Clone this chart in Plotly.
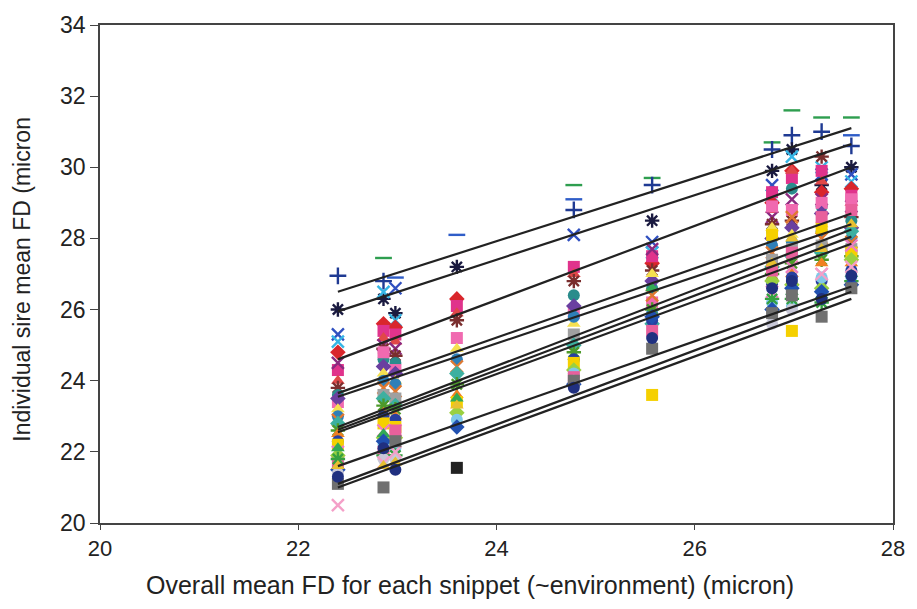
import plotly.graph_objects as go

# Environment (snippet) overall means, micron
env_x = [22.4, 22.86, 22.98, 23.6, 24.78, 25.57, 26.78, 26.98, 27.28, 27.58]

# Sire marker styles (Excel-like automatic markers)
sire_symbols = ["line-ew-open", "cross-thin-open", "line-ew-open", "asterisk-open", "x-thin-open",
                "x-thin-open", "diamond", "square", "triangle-up", "x-thin-open",
                "asterisk-open", "circle", "square", "diamond", "triangle-up",
                "circle", "x-thin-open", "square", "diamond", "asterisk-open",
                "triangle-up", "circle", "square", "x-thin-open", "diamond",
                "triangle-up", "circle", "square", "asterisk-open", "diamond",
                "circle", "x-thin-open", "triangle-up", "square", "circle", "square"]
sire_colors = ["#2E9E4F", "#1F3A93", "#2F5DC8", "#1A1A40", "#3050C0",
               "#35B5E5", "#D9262C", "#E0338C", "#E04848", "#8B2A80",
               "#7A2E2E", "#2A8C8C", "#F06AB0", "#6A3FA0", "#F5E050",
               "#2E7FB8", "#E07830", "#A0A0A0", "#3DB0A0", "#4D9A2A",
               "#F08020", "#2840A0", "#F5D000", "#F07FC0", "#9AD040",
               "#33AA55", "#7FC8E8", "#E8609C", "#35A040", "#2050B0",
               "#C8C8D8", "#F4A0C8", "#E8C030", "#707070", "#203080", "#222222"]

# Individual sire means at each environment (None = sire not present)
env_22_40 = [None, 26.95, None, 26.0, 25.3, 25.1, 24.8, 24.3, 24.0, 24.5, 23.8, 23.6, 23.4, 23.5, 23.2, 23.0, 22.9, None,
             22.8, 22.6, 22.5, 22.3, 22.2, 22.0, 21.9, 22.1, 21.7, 21.6, 21.8, 21.5, 21.4, 20.5, 21.6, 21.1, 21.3, None]
env_22_86 = [27.45, 26.8, None, 26.3, None, 26.5, 25.6, 25.4, 25.2, 25.0, 24.9, 24.6, 24.8, 24.4, 24.2, 24.0, 23.8, 23.6,
             23.5, 23.3, 23.1, 23.0, 22.8, 22.6, 22.4, 22.5, 22.2, 22.0, 21.9, 22.3, 21.8, 21.7, 21.6, 21.0, 22.1, None]
env_22_98 = [None, None, 26.9, 25.9, 26.6, 25.7, 25.5, 25.3, 25.1, 24.9, 24.7, 24.5, 24.3, 24.2, 24.0, 23.9, 23.7, 23.5,
             23.3, 23.2, 23.0, 22.9, 22.7, 22.6, 22.4, 22.3, 22.1, 22.6, 21.9, None, 21.8, 22.0, 21.7, 22.3, 21.5, None]
env_23_60 = [None, None, 28.1, 27.2, None, None, 26.3, 26.1, 25.9, None, 25.7, None, 25.2, None, 24.9, 24.6, 24.4, None,
             24.2, 23.9, 23.6, None, 23.4, None, 23.1, 23.5, 22.9, None, None, 22.7, None, None, 23.3, None, None, 21.55]
env_24_78 = [29.5, 28.8, 29.1, None, 28.1, None, None, 27.2, 27.0, None, 26.8, 26.4, 25.9, 26.1, 25.6, 25.8, None, 25.3,
             25.0, 24.8, None, 24.6, 24.5, None, 24.3, None, 24.2, 24.1, None, 23.9, 24.0, None, None, 24.0, 23.8, None]
env_25_57 = [29.7, 29.5, None, 28.5, 27.9, 27.6, 27.3, 27.5, None, 27.7, 27.1, 26.6, 26.2, 26.8, 27.0, 25.9, 26.4, None,
             25.6, 26.0, None, 25.7, 23.6, None, None, 26.6, None, 25.4, None, 25.8, None, None, None, 24.9, 25.2, None]
env_26_78 = [30.7, 30.5, None, 29.9, 29.5, 29.2, 29.0, 29.3, 28.8, 28.6, 28.4, 28.2, 28.9, 28.0, 28.3, 27.8, 27.6, 27.4,
             27.2, 27.0, 26.9, 26.7, 28.1, 26.5, 26.8, None, 26.2, 27.1, 26.3, 26.0, 25.6, None, 27.3, 25.9, 26.6, None]
env_26_98 = [31.6, 30.9, None, 30.5, None, 30.3, 29.9, 29.7, 29.9, 29.1, 28.5, 29.4, 28.8, 28.3, 28.1, 27.9, 28.6, 27.7,
             27.5, 27.3, 27.0, 26.9, 25.4, 27.2, 26.7, 26.5, 26.1, 27.6, 26.3, 26.6, 26.0, None, 28.0, 26.4, 26.8, None]
env_27_28 = [31.4, 31.0, None, 29.5, 29.8, 30.0, 29.3, 29.9, 29.6, 29.1, 30.3, 28.9, 29.0, 28.7, 28.4, 28.2, 28.0, 27.8,
             27.6, 27.4, 27.3, 26.8, 28.3, 27.0, 26.6, 26.4, 26.9, 28.6, 26.2, 26.5, None, 27.0, 27.7, 25.8, 26.3, None]
env_27_58 = [31.4, 30.6, 30.9, 30.0, 29.8, 29.6, 29.4, 29.2, 29.0, 28.9, 28.6, 28.5, 29.1, 28.3, 28.1, 28.0, 27.9, 27.7,
             28.2, 27.5, 27.3, 27.1, 27.6, 27.8, 27.4, 27.0, 26.9, 28.8, 26.8, 26.7, None, 27.2, 28.4, 26.6, 26.95, None]

# Fitted regression lines for selected sires (value at first and last environment)
line_x = [22.4, 27.58]
line_start = [26.5, 25.95, 24.6, 23.65, 23.55, 22.7, 22.62, 22.55, 21.6, 21.1, 21.0]
line_end = [31.1, 30.65, 30.0, 28.7, 28.4, 28.25, 28.05, 27.85, 26.65, 26.5, 26.3]

env_columns = [env_22_40, env_22_86, env_22_98, env_23_60, env_24_78,
               env_25_57, env_26_78, env_26_98, env_27_28, env_27_58]

fig = go.Figure()

for k in range(len(sire_symbols)):
    xs, ys = [], []
    for ex, col in zip(env_x, env_columns):
        if col[k] is not None:
            xs.append(ex)
            ys.append(col[k])
    sym = sire_symbols[k]
    is_open = sym.endswith("open")
    fig.add_trace(go.Scatter(
        x=xs, y=ys, mode="markers", showlegend=False, hoverinfo="skip",
        marker=dict(symbol=sym, size=12, color=sire_colors[k],
                    line=dict(color=sire_colors[k], width=2.4 if is_open else 0)),
    ))

for s, e in zip(line_start, line_end):
    fig.add_trace(go.Scatter(
        x=line_x, y=[s, e], mode="lines", showlegend=False, hoverinfo="skip",
        line=dict(color="#222222", width=2.2),
    ))

font_family = "Liberation Sans, Arial, sans-serif"

fig.update_layout(
    width=917, height=609,
    margin=dict(l=100, r=16, t=20, b=86),
    paper_bgcolor="white", plot_bgcolor="white",
    font=dict(family=font_family, color="#222222"),
    xaxis=dict(range=[20, 28], dtick=2, showgrid=False, zeroline=False,
               showline=True, linecolor="#444444", linewidth=1.6, mirror=True,
               ticks="outside", ticklen=5, tickcolor="#444444",
               tickfont=dict(size=22, color="#222222")),
    yaxis=dict(range=[20, 34], dtick=2, showgrid=False, zeroline=False,
               showline=True, linecolor="#444444", linewidth=1.6, mirror=True,
               ticks="outside", ticklen=8, tickcolor="#444444",
               tickfont=dict(size=23, color="#222222")),
    annotations=[
        dict(text="Overall mean FD for each snippet (~environment) (micron)",
             xref="paper", yref="paper", x=(474 - 100) / 801, y=-0.125,
             xanchor="center", yanchor="middle", showarrow=False,
             font=dict(size=25, color="#222222")),
        dict(text="Individual sire mean FD (micron",
             xref="paper", yref="paper", x=-0.098, y=(609 - 277 - 86) / 503,
             xanchor="center", yanchor="middle", showarrow=False, textangle=-90,
             font=dict(size=23, color="#222222")),
    ],
)

fig.write_html("out.html")
